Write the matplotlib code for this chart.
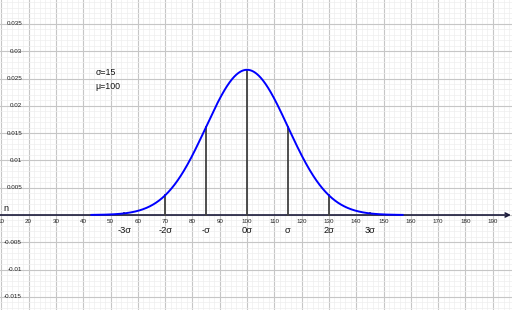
import numpy as np
import matplotlib
matplotlib.use("Agg")
import matplotlib.pyplot as plt

# ---- data ----
mu = 100
sigma = 15
sigma_steps = [-3, -2, -1, 0, 1, 2, 3]
sigma_labels = ["-3σ", "-2σ", "-σ", "0σ", "σ", "2σ", "3σ"]
curve_range = [43, 157]
x_ticks = list(range(10, 200, 10))
y_ticks = [0.035, 0.03, 0.025, 0.02, 0.015, 0.01, 0.005, -0.005, -0.01, -0.015]
y_tick_labels = ["0.035", "0.03", "0.025", "0.02", "0.015", "0.01", "0.005",
                 "-0.005", "-0.01", "-0.015"]

def pdf(x):
    return np.exp(-0.5 * ((x - mu) / sigma) ** 2) / (sigma * np.sqrt(2 * np.pi))

plt.rcParams['font.family'] = ['Liberation Sans', 'DejaVu Sans']

fig = plt.figure(figsize=(5.12, 3.10), dpi=100)
ax = fig.add_axes([0, 0, 1, 1])
x0, x1 = 9.52, 197.07
y0, y1 = -0.0174, 0.03938
ax.set_xlim(x0, x1)
ax.set_ylim(y0, y1)
ax.set_axis_off()

# grid
for gx in np.arange(10, 198, 2):
    major = abs(gx % 10) < 1e-9
    ax.axvline(gx, color='#c6c6c6' if major else '#eeeeee',
               lw=0.8 if major else 0.5, zorder=0)
for gy in np.arange(-0.017, 0.0395, 0.001):
    k = round(gy / 0.001)
    major = k % 5 == 0
    ax.axhline(k * 0.001, color='#c6c6c6' if major else '#eeeeee',
               lw=0.8 if major else 0.5, zorder=0)

# x axis with arrow
ax.annotate('', xy=(x1 - 0.4, 0), xytext=(x0, 0),
            arrowprops=dict(arrowstyle='->', color='#1c1c3c', lw=1.2,
                            mutation_scale=7, shrinkA=0, shrinkB=0),
            zorder=2)

# tick labels
for t in x_ticks:
    ax.text(t, -0.00128, str(t), ha='center', va='center', fontsize=4.5,
            color='#222222', zorder=3)
for t, lab in zip(y_ticks, y_tick_labels):
    ax.text(17.6, t, lab, ha='right', va='center', fontsize=4.5,
            color='#222222', zorder=3)

# curve
xs = np.linspace(curve_range[0], curve_range[1], 600)
ax.plot(xs, pdf(xs), color='#0000ff', lw=1.4, zorder=4)

# sigma segments
for k in sigma_steps:
    xv = mu + k * sigma
    ax.plot([xv, xv], [0, pdf(xv)], color='#404040', lw=1.3, zorder=3)

# sigma labels
for k, lab in zip(sigma_steps, sigma_labels):
    xv = mu + k * sigma
    ax.text(xv, -0.00293, lab, ha='center', va='center', fontsize=6.7,
            color='#111111', zorder=5)

ax.text(95.7 / 2.73 + x0, (215 - 72.5) * 0.0001832, "σ=15", ha='left',
        va='center', fontsize=6.3, color='#111111')
ax.text(95.7 / 2.73 + x0, (215 - 86.5) * 0.0001832, "μ=100", ha='left',
        va='center', fontsize=6.3, color='#111111')
ax.text(3 / 2.73 + x0, (215 - 208) * 0.0001832, "n", ha='left',
        va='center', fontsize=6.5, color='#111111')

fig.savefig("out.png", dpi=100)
